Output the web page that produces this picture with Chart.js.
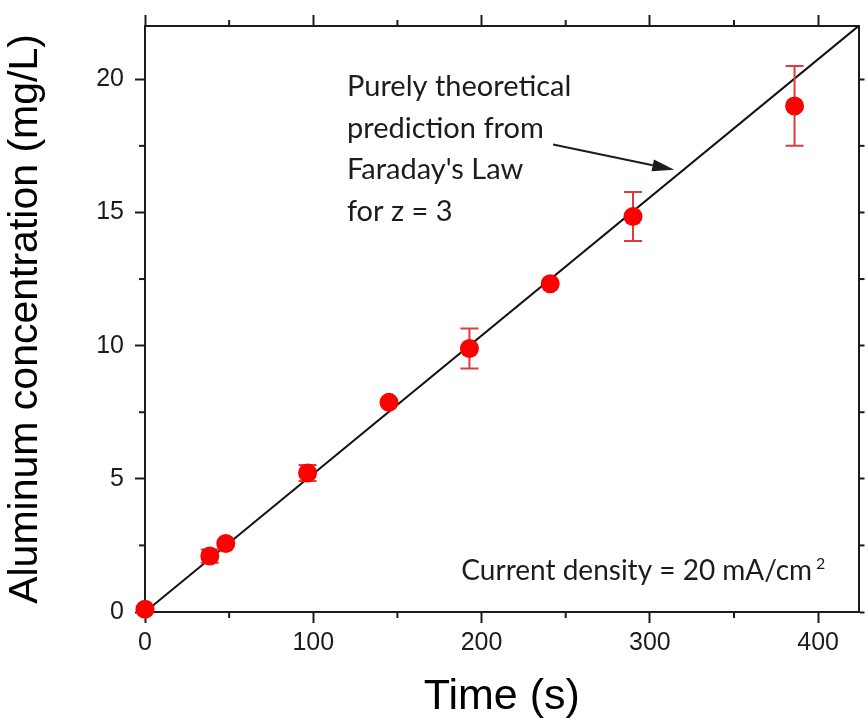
<!DOCTYPE html>
<html>
<head>
<meta charset="utf-8">
<script src="https://cdn.jsdelivr.net/npm/chart.js@4.4.0/dist/chart.umd.min.js"></script>
<style>
  body{margin:0;background:#fff;}
  #wrap{width:868px;height:719px;}
</style>
</head>
<body>
<div id="wrap"><canvas id="c" width="868" height="719"></canvas></div>
<script>
// measured points (time in s, Al in mg/L) and their error bars
const times = [0, 38.5, 48, 96.6, 145, 192.8, 240.8, 290, 386];
const conc  = [0.1, 2.1, 2.57, 5.22, 7.87, 9.89, 12.32, 14.85, 19.0];
const errs  = [0, 0.25, 0, 0.3, 0, 0.75, 0, 0.92, 1.5];

// Faraday's law line (z = 3)
const theoryX = [0, 424];
const theoryY = [0, 22];

const xRange = [0, 424], yRange = [0, 22];
const xTicks = [0, 50, 100, 150, 200, 250, 300, 350, 400];
const yTicks = [0, 2.5, 5, 7.5, 10, 12.5, 15, 17.5, 20];
const xMajor = 100, yMajor = 5;

const noteLines = ['Purely theoretical', 'prediction from', "Faraday's Law", 'for z = 3'];
const noteAt = [120, 19.36];
const arrowFrom = [242.5, 17.55], arrowTo = [314.5, 16.6];
const densityText = 'Current density = 20 mA/cm', densitySup = '2';
const densityAt = [188, 1.2];

const INK = '#1c1c1c';
const noteFont = 'Lato, "Open Sans", sans-serif';

const transparent = 'rgba(0,0,0,0)';
const isMajor = (v, m) => Math.abs(v / m - Math.round(v / m)) < 1e-6;

// short ticks at half steps (Chart.js has no minor ticks for linear axes)
const minorLen = {x: 6, x2: 6, y: 6, y2: 6};
const minorTicks = {
  id: 'minorTicks',
  afterDraw(chart){
    const ctx = chart.ctx, a = chart.chartArea;
    ctx.save(); ctx.strokeStyle = INK; ctx.lineWidth = 2;
    Object.keys(minorLen).forEach(id=>{
      const s = chart.scales[id], L = minorLen[id];
      const m = s.isHorizontal() ? xMajor : yMajor;
      s.ticks.forEach(t=>{
        if (isMajor(t.value, m)) return;
        const p = s.getPixelForValue(t.value);
        ctx.beginPath();
        if (id === 'x') { ctx.moveTo(p, a.bottom); ctx.lineTo(p, a.bottom + L); }
        if (id === 'x2') { ctx.moveTo(p, a.top); ctx.lineTo(p, a.top - L); }
        if (id === 'y') { ctx.moveTo(a.left, p); ctx.lineTo(a.left - L, p); }
        if (id === 'y2') { ctx.moveTo(a.right, p); ctx.lineTo(a.right + L, p); }
        ctx.stroke();
      });
    });
    ctx.restore();
  }
};

const errBars = {
  id: 'errBars',
  afterDatasetDraw(chart, args){
    if (args.index !== 0) return;
    const ctx = chart.ctx, xs = chart.scales.x, ys = chart.scales.y;
    ctx.save(); ctx.strokeStyle = '#e23a3a'; ctx.lineWidth = 2;
    times.forEach((t,i)=>{
      if (!errs[i]) return;
      const px = xs.getPixelForValue(t);
      const hi = ys.getPixelForValue(conc[i] + errs[i]);
      const lo = ys.getPixelForValue(conc[i] - errs[i]);
      ctx.beginPath();
      ctx.moveTo(px, hi); ctx.lineTo(px, lo);
      ctx.moveTo(px - 9, hi); ctx.lineTo(px + 9, hi);
      ctx.moveTo(px - 9, lo); ctx.lineTo(px + 9, lo);
      ctx.stroke();
    });
    ctx.restore();
  }
};

const notes = {
  id: 'notes',
  afterDraw(chart){
    const ctx = chart.ctx, xs = chart.scales.x, ys = chart.scales.y;
    ctx.save();
    ctx.fillStyle = INK; ctx.textAlign = 'left'; ctx.textBaseline = 'alphabetic';
    ctx.font = '29px ' + noteFont;
    const nx = xs.getPixelForValue(noteAt[0]), ny = ys.getPixelForValue(noteAt[1]);
    noteLines.forEach((s,i)=> ctx.fillText(s, nx, ny + i * 41.5));

    // arrow
    const x0 = xs.getPixelForValue(arrowFrom[0]), y0 = ys.getPixelForValue(arrowFrom[1]);
    const x1 = xs.getPixelForValue(arrowTo[0]), y1 = ys.getPixelForValue(arrowTo[1]);
    const ang = Math.atan2(y1 - y0, x1 - x0), hl = 22, hw = 6;
    const bx = x1 - hl * Math.cos(ang), by = y1 - hl * Math.sin(ang);
    ctx.strokeStyle = INK; ctx.lineWidth = 2;
    ctx.beginPath(); ctx.moveTo(x0, y0); ctx.lineTo(bx, by); ctx.stroke();
    ctx.beginPath();
    ctx.moveTo(x1, y1);
    ctx.lineTo(bx + hw * Math.sin(ang), by - hw * Math.cos(ang));
    ctx.lineTo(bx - hw * Math.sin(ang), by + hw * Math.cos(ang));
    ctx.closePath(); ctx.fill();

    // current density
    const dx = xs.getPixelForValue(densityAt[0]), dy = ys.getPixelForValue(densityAt[1]);
    ctx.font = '28px ' + noteFont;
    ctx.fillText(densityText, dx, dy);
    const w = ctx.measureText(densityText).width;
    ctx.font = '16px ' + noteFont;
    ctx.fillText(densitySup, dx + w + 4, dy - 11);
    ctx.restore();
  }
};

const baseGrid = (len, m) => ({
  drawOnChartArea: false, tickLength: len, tickWidth: 2,
  tickColor: c => (c.tick && isMajor(c.tick.value, m)) ? INK : transparent
});
const border = {display: true, color: INK, width: 2};
const tickFont = {family: '"Liberation Sans", Arial, sans-serif', size: 25};
const titleFont = size => ({family: '"Liberation Sans", Arial, sans-serif', size, lineHeight: 1});
const setTicks = vals => s => { s.ticks = vals.map(value => ({value})); };
// fixed box sizes, and no extra room for overhanging labels
const fitBox = (w, h) => s => {
  if (w != null) s.width = w;
  if (h != null) s.height = h;
  s.paddingTop = s.paddingBottom = s.paddingLeft = s.paddingRight = 0;
};

new Chart(document.getElementById('c'), {
  data: {
    datasets: [
      {
        type: 'line', order: 2,
        data: theoryX.map((x,i)=>({x, y: theoryY[i]})),
        borderColor: '#111', borderWidth: 2, pointRadius: 0, fill: false
      },
      {
        type: 'scatter', order: 1, clip: false,
        data: times.map((x,i)=>({x, y: conc[i]})),
        backgroundColor: '#ff0000', borderColor: '#ff0000', borderWidth: 0,
        pointRadius: 9.5, pointHoverRadius: 9.5
      }
    ]
  },
  options: {
    responsive: false, animation: false,
    layout: {padding: 0},
    plugins: {legend: {display: false}, tooltip: {enabled: false}},
    scales: {
      x: {
        type: 'linear', position: 'bottom', min: xRange[0], max: xRange[1],
        afterBuildTicks: setTicks(xTicks),
        afterFit: fitBox(null, 107),
        ticks: {autoSkip: false, maxRotation: 0, padding: 5, color: INK, font: tickFont,
          callback: v => isMajor(v, xMajor) ? v : ''},
        grid: baseGrid(11, xMajor), border,
        title: {display: true, text: 'Time (s)', color: '#000', font: titleFont(43), padding: {top: 0, bottom: 0}}
      },
      x2: {
        type: 'linear', position: 'top', min: xRange[0], max: xRange[1],
        afterBuildTicks: setTicks(xTicks),
        afterFit: fitBox(null, 26),
        ticks: {display: false},
        grid: baseGrid(11, xMajor), border
      },
      y: {
        type: 'linear', position: 'left', min: yRange[0], max: yRange[1],
        afterBuildTicks: setTicks(yTicks),
        afterFit: fitBox(145, null),
        ticks: {autoSkip: false, padding: 11, color: INK, font: tickFont,
          callback: v => isMajor(v, yMajor) ? v : ''},
        grid: baseGrid(10, yMajor), border,
        title: {display: true, text: 'Aluminum concentration (mg/L)', color: '#000', font: titleFont(41), padding: {top: 5, bottom: 0}}
      },
      y2: {
        type: 'linear', position: 'right', min: yRange[0], max: yRange[1],
        afterBuildTicks: setTicks(yTicks),
        afterFit: fitBox(6, null),
        ticks: {display: false},
        grid: baseGrid(6, yMajor), border
      }
    }
  },
  plugins: [errBars, minorTicks, notes]
});
</script>
</body>
</html>
